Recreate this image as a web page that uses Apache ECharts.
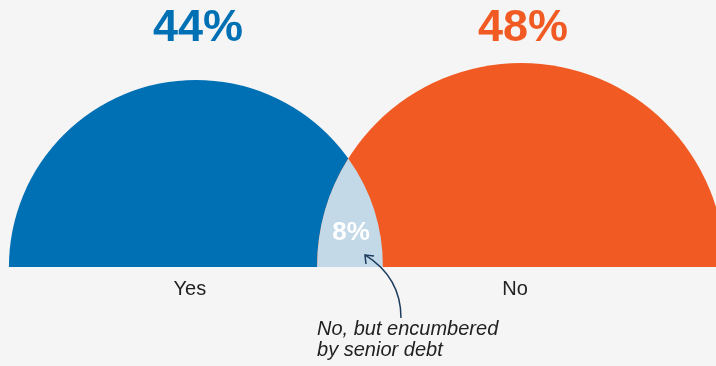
<!DOCTYPE html>
<html>
<head>
<meta charset="utf-8">
<style>
  html, body { margin: 0; padding: 0; background: #f5f5f5; }
  #chart { width: 716px; height: 366px; }
</style>
<script src="https://cdn.jsdelivr.net/npm/echarts@6/dist/echarts.min.js"></script>
</head>
<body>
<div id="chart"></div>
<script>
// Survey answers: share of respondents per answer (percent)
const categories = ['Yes', 'No'];
const shares = [44, 48];
const overlapShare = 8;
const overlapNote = 'No, but encumbered\nby senior debt';

// Layout (axis units, 1 unit = one percentage point of radius)
const PX_PER_UNIT = 4.25;
const X_MAX = 716 / PX_PER_UNIT;
const Y_MAX = 366 / PX_PER_UNIT;
const BASE_Y = 23.3;          // baseline the half-discs stand on
const LEFT_EDGE = 2.1;        // left end of the first half-disc
const OVERLAP_SPAN = 15.5;    // width of the shared region at the baseline

const COLORS = ['#0070b5', '#f15a22'];
const OVERLAP_COLOR = '#c3d9e8';
const TEXT_COLOR = '#222222';
const ARROW_COLOR = '#1d3d5e';
const FONT = '"Liberation Sans", Arial, sans-serif';

// centres of the half-discs, derived from the shares
const centers = [];
centers[0] = LEFT_EDGE + shares[0];
centers[1] = centers[0] + shares[0] - OVERLAP_SPAN + shares[1];

const discData = shares.map((s, i) => [centers[i], BASE_Y, s, i]);

function renderDisc(params, api) {
  const c = api.coord([api.value(0), api.value(1)]);
  const r = api.size([api.value(2), 0])[0];
  const i = api.value(3);
  return {
    type: 'group',
    children: [
      {
        type: 'sector',
        shape: { cx: c[0], cy: c[1], r0: 0, r: r, startAngle: Math.PI, endAngle: Math.PI * 2, clockwise: true },
        style: { fill: COLORS[i] }
      },
      {
        type: 'text',
        x: c[0] + 2, y: 28.5,
        style: {
          text: shares[i] + '%', fill: COLORS[i],
          font: 'bold 45px ' + FONT, align: 'center', verticalAlign: 'middle'
        }
      },
      {
        type: 'text',
        x: c[0] - 6, y: 289,
        style: {
          text: categories[i], fill: TEXT_COLOR,
          font: '20px ' + FONT, align: 'center', verticalAlign: 'middle'
        }
      }
    ]
  };
}

function renderOverlap(params, api) {
  const c1 = api.coord([centers[0], BASE_Y]);
  const c2 = api.coord([centers[1], BASE_Y]);
  const r1 = api.size([shares[0], 0])[0];
  const r2 = api.size([shares[1], 0])[0];
  const y0 = c1[1];
  const d = c2[0] - c1[0];
  const a = (d * d + r1 * r1 - r2 * r2) / (2 * d);
  const h = Math.sqrt(r1 * r1 - a * a);
  const px = c1[0] + a, py = y0 - h;
  const left = c2[0] - r2, right = c1[0] + r1;
  const mid = (left + right) / 2;
  const lens = 'M' + left + ',' + y0 +
    ' A' + r2 + ',' + r2 + ' 0 0 1 ' + px + ',' + py +
    ' A' + r1 + ',' + r1 + ' 0 0 1 ' + right + ',' + y0 + ' Z';
  const tipX = mid + 15, tipY = y0 - 12;
  const curve = 'M' + (mid + 51) + ',' + (y0 + 51) +
    ' C' + (mid + 51) + ',' + (y0 + 23) + ' ' + (mid + 39) + ',' + (y0 + 3) + ' ' + tipX + ',' + tipY;
  const head = 'M' + (tipX + 9) + ',' + (tipY + 1) + ' L' + tipX + ',' + tipY + ' L' + (tipX + 1) + ',' + (tipY + 9);
  return {
    type: 'group',
    children: [
      { type: 'path', shape: { pathData: lens }, style: { fill: OVERLAP_COLOR } },
      {
        type: 'text', x: mid + 1, y: y0 - 34.5,
        style: { text: overlapShare + '%', fill: '#ffffff', font: 'bold 26px ' + FONT, align: 'center', verticalAlign: 'middle' }
      },
      { type: 'path', shape: { pathData: curve }, style: { fill: 'none', stroke: ARROW_COLOR, lineWidth: 1.5 } },
      { type: 'path', shape: { pathData: head }, style: { fill: 'none', stroke: ARROW_COLOR, lineWidth: 1.5 } },
      {
        type: 'text', x: left, y: y0 + 52,
        style: { text: overlapNote, fill: TEXT_COLOR, font: 'italic 20px ' + FONT, lineHeight: 21, align: 'left', verticalAlign: 'top' }
      }
    ]
  };
}

const chart = echarts.init(document.getElementById('chart'), null, { renderer: 'canvas' });
chart.setOption({
  backgroundColor: '#f5f5f5',
  animation: false,
  grid: { left: 0, right: 0, top: 0, bottom: 0 },
  xAxis: { type: 'value', min: 0, max: X_MAX, show: false },
  yAxis: { type: 'value', min: 0, max: Y_MAX, show: false },
  series: [
    { type: 'custom', renderItem: renderDisc, data: discData, clip: false, silent: true },
    { type: 'custom', renderItem: renderOverlap, data: [[overlapShare]], clip: false, silent: true }
  ]
});
</script>
</body>
</html>
